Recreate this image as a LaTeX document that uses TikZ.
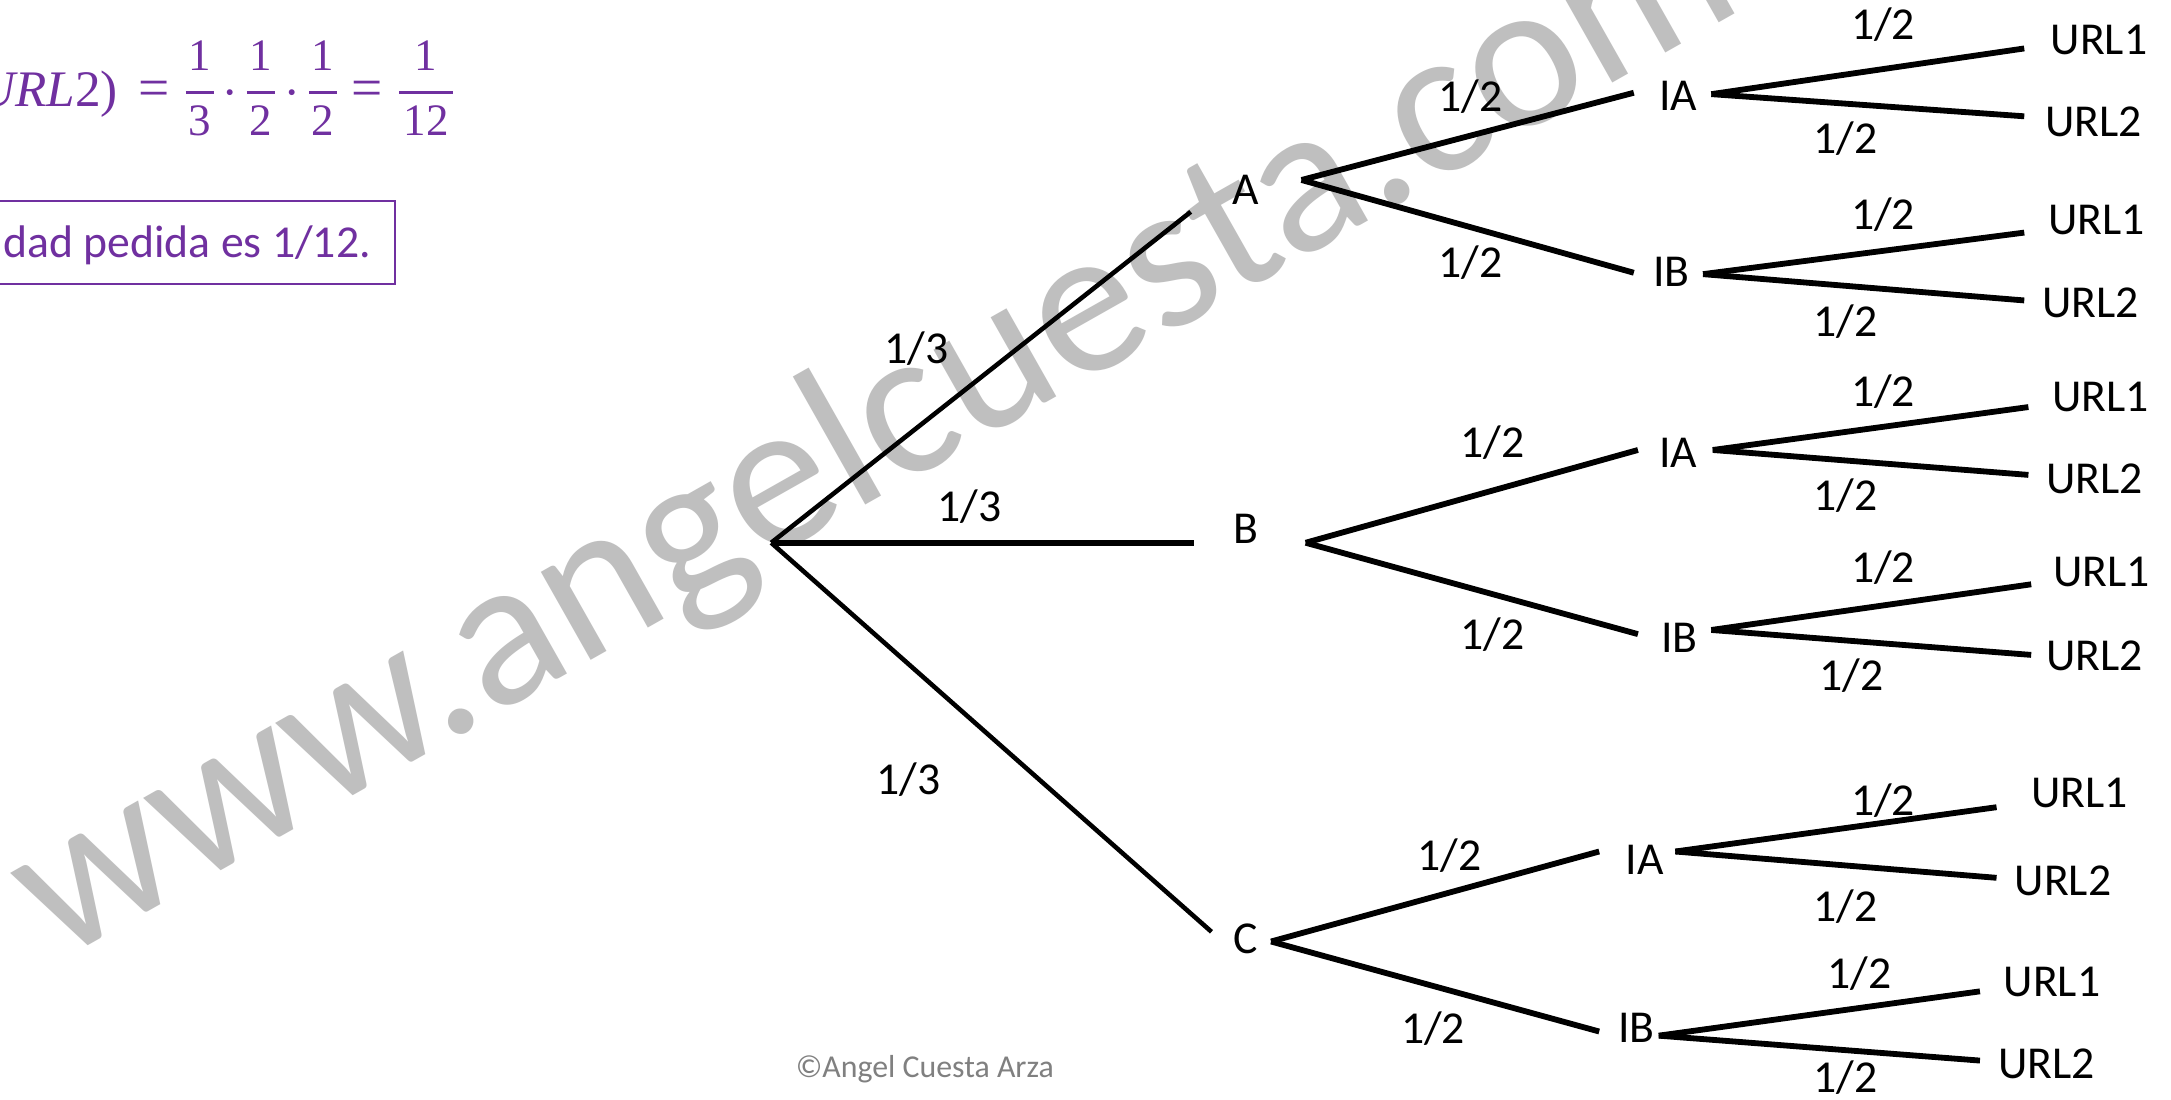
\documentclass[tikz,border=0pt]{standalone}
\usepackage{fix-cm}
\usepackage{amsmath}
\usepackage{fontspec}
\setmainfont{Carlito}
\newfontfamily\fml{Liberation Serif}
\newcommand{\dig}{\fml\fontsize{32.5}{36}\selectfont}
\newcommand{\lhs}{\fml\fontsize{37}{42}\selectfont}
\newcommand{\myfrac}[3]{\genfrac{}{}{2.4pt}{1}%
  {\text{\dig\makebox[#1]{#2}\rule[-12.4pt]{0pt}{12.4pt}}}%
  {\text{\dig\rule{0pt}{27.8pt}\makebox[#1]{#3}}}}
\usetikzlibrary{calc}
\definecolor{purp}{RGB}{112,48,160}
\definecolor{wmgrey}{RGB}{191,191,191}
\definecolor{cpygrey}{RGB}{128,128,128}
\begin{document}
\begin{tikzpicture}[x=1pt,y=-1pt,
  lbl/.style={font=\fontsize{33}{38}\selectfont, inner sep=0pt},
  prob/.style={font=\fontsize{33}{38}\selectfont, inner sep=0pt},
  br/.style={line width=4.2pt, black},
  brthin/.style={line width=3.3pt, black},
  brthick/.style={line width=4pt, black}]
\useasboundingbox (0,0) rectangle (1568,794);
\clip (0,0) rectangle (1568,794);
\fill[white] (0,0) rectangle (1568,794);

% watermark
\node[font=\fontsize{153}{160}\selectfont, text=wmgrey, rotate=29.5, anchor=base, inner sep=0pt] (wmk) at (652,350) {www.angelcuesta.com};

% formula and result box
\node[anchor=base west, inner sep=0pt, text=purp, font=\fml\fontsize{40}{46}\selectfont] (formula) at (-15.7,76.6)
  {$\text{\lhs\itshape URL}\text{\lhs 2)}\hspace{15pt}\text{=}\hspace{10.3pt}\myfrac{20pt}{1}{3}\hspace{5pt}\mathord{\cdot}\hspace{5.5pt}\myfrac{20pt}{1}{2}\hspace{6pt}\mathord{\cdot}\hspace{5.5pt}\myfrac{20pt}{1}{2}\hspace{9.6pt}\text{=}\hspace{10.4pt}\myfrac{39pt}{1}{12}$};
\draw[purp, line width=1.4pt] (-10,145) rectangle (285,205);
\node[anchor=base east, inner sep=0pt, text=purp, font=\fontsize{33}{38}\selectfont] (result) at (268,186) {dad pedida es 1/12.};

% tree nodes
\coordinate (R) at (557,392);
\node[lbl] (A) at (900,137) {A};
\node[lbl] (B) at (900,382) {B};
\node[lbl] (C) at (900,678) {C};
\node[lbl] (IA1) at (1212,69) {IA};
\node[lbl] (IB1) at (1207,196) {IB};
\node[lbl] (IA2) at (1212,327) {IA};
\node[lbl] (IB2) at (1213,461) {IB};
\node[lbl] (IA3) at (1188,621) {IA};
\node[lbl] (IB3) at (1182,742) {IB};
\node[lbl] (U11) at (1516,29) {URL1};
\node[lbl] (U12) at (1512,88) {URL2};
\node[lbl] (U21) at (1514,159) {URL1};
\node[lbl] (U22) at (1510,219) {URL2};
\node[lbl] (U31) at (1517,287) {URL1};
\node[lbl] (U32) at (1513,346) {URL2};
\node[lbl] (U41) at (1518,413) {URL1};
\node[lbl] (U42) at (1513,474) {URL2};
\node[lbl] (U51) at (1502,573) {URL1};
\node[lbl] (U52) at (1490,636) {URL2};
\node[lbl] (U61) at (1482,709) {URL1};
\node[lbl] (U62) at (1478,768) {URL2};

% connectors level 1
\draw[brthin] (R) -- ($(A)+(-40,16)$);
\draw[brthick] (R) -- ($(B)+(-38,10)$);
\draw[brthin] (R) -- ($(C)+(-25,-5)$);
% level 2
\draw[br] ($(A)+(40,-7)$) -- ($(IA1)+(-32,-2)$);
\draw[br] ($(A)+(40,-7)$) -- ($(IB1)+(-27,1)$);
\draw[br] ($(B)+(43,10)$) -- ($(IA2)+(-29,-2)$);
\draw[br] ($(B)+(43,10)$) -- ($(IB2)+(-30,-3)$);
\draw[br] ($(C)+(18,2)$) -- ($(IA3)+(-33,-6)$);
\draw[br] ($(C)+(18,2)$) -- ($(IB3)+(-27,3)$);
% level 3
\draw[br] ($(IA1)+(24,-1)$) -- ($(U11)+(-54,6)$);
\draw[br] ($(IA1)+(24,-1)$) -- ($(U12)+(-50,-4)$);
\draw[br] ($(IB1)+(23,2)$) -- ($(U21)+(-52,9)$);
\draw[br] ($(IB1)+(23,2)$) -- ($(U22)+(-48,-2)$);
\draw[br] ($(IA2)+(25,-2)$) -- ($(U31)+(-52,7)$);
\draw[br] ($(IA2)+(25,-2)$) -- ($(U32)+(-48,-3)$);
\draw[br] ($(IB2)+(23,-6)$) -- ($(U41)+(-51,9)$);
\draw[br] ($(IB2)+(23,-6)$) -- ($(U42)+(-46,-1)$);
\draw[br] ($(IA3)+(22,-6)$) -- ($(U51)+(-60,10)$);
\draw[br] ($(IA3)+(22,-6)$) -- ($(U52)+(-48,-2)$);
\draw[br] ($(IB3)+(16,6)$) -- ($(U61)+(-52,7)$);
\draw[br] ($(IB3)+(16,6)$) -- ($(U62)+(-48,-2)$);

% probabilities
\node[prob] (pA) at (662,252) {1/3};
\node[prob] (pB) at (700,366) {1/3};
\node[prob] (pC) at (656,563) {1/3};
\node[prob] (pAIA) at (1062,70) {1/2};
\node[prob] (pAIB) at (1062,190) {1/2};
\node[prob] (pBIA) at (1078,320) {1/2};
\node[prob] (pBIB) at (1078,458) {1/2};
\node[prob] (pCIA) at (1047,618) {1/2};
\node[prob] (pCIB) at (1035,743) {1/2};
\node[prob] (p11) at (1360,18) {1/2};
\node[prob] (p12) at (1333,100) {1/2};
\node[prob] (p21) at (1360,155) {1/2};
\node[prob] (p22) at (1333,232) {1/2};
\node[prob] (p31) at (1360,283) {1/2};
\node[prob] (p32) at (1333,358) {1/2};
\node[prob] (p41) at (1360,410) {1/2};
\node[prob] (p42) at (1337,488) {1/2};
\node[prob] (p51) at (1360,578) {1/2};
\node[prob] (p52) at (1333,655) {1/2};
\node[prob] (p61) at (1343,703) {1/2};
\node[prob] (p62) at (1333,778) {1/2};

% copyright
\node[font=\fontsize{23}{27}\selectfont, text=cpygrey, inner sep=0pt] (copy) at (668,772) {©Angel Cuesta Arza};
\end{tikzpicture}
\end{document}
